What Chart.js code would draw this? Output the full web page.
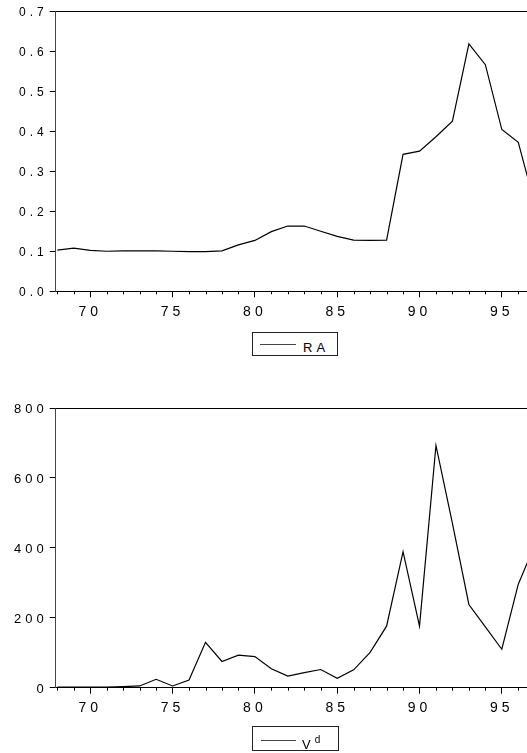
<!DOCTYPE html>
<html><head><meta charset="utf-8">
<script src="https://cdn.jsdelivr.net/npm/chart.js@4.4.0/dist/chart.umd.min.js"></script>
<style>
html,body{margin:0;padding:0;background:#fff;width:527px;height:753px;overflow:hidden;font-family:"Liberation Sans",Arial,sans-serif;}
#c1{position:absolute;left:0;top:0;}
#c2{position:absolute;left:0;top:370px;}
.leg{position:absolute;border:1px solid #222;box-sizing:border-box;background:#fff;}
.leg .ln{position:absolute;height:1px;background:#444;}
.leg .tx{position:absolute;font-size:13px;letter-spacing:4px;color:#000;line-height:1;white-space:nowrap;}
.leg .tx sup{font-size:10px;position:relative;top:-1px;letter-spacing:0;}
</style></head><body>
<canvas id="c1" width="527" height="320"></canvas>
<canvas id="c2" width="527" height="360"></canvas>
<div class="leg" style="left:252px;top:332px;width:86px;height:24px;"><div class="ln" style="left:7px;top:11px;width:36px"></div><div class="tx" style="left:50px;top:8px">RA</div></div>
<div class="leg" style="left:252px;top:726px;width:87px;height:25px;"><div class="ln" style="left:8px;top:13px;width:35px"></div><div class="tx" style="left:49px;top:9px">V<sup>d</sup></div></div>
<script>
const years = [68,69,70,71,72,73,74,75,76,77,78,79,80,81,82,83,84,85,86,87,88,89,90,91,92,93,94,95,96,97];
const raValues = [0.103,0.108,0.102,0.100,0.101,0.101,0.101,0.100,0.099,0.099,0.101,0.116,0.127,0.149,0.163,0.163,0.150,0.137,0.128,0.127,0.128,0.342,0.350,0.386,0.425,0.618,0.566,0.404,0.372,0.218];
const vdValues = [2,2,2,2,3,5,24,5,22,130,75,93,89,54,33,43,52,27,51,101,176,389,176,693,470,238,174,110,296,408];
const xTickLabels = [70,75,80,85,90,95];
const raTickLabels = ['0.0','0.1','0.2','0.3','0.4','0.5','0.6','0.7'];
const vdTickLabels = ['0','200','400','600','800'];

const FAMILY = '"Liberation Sans", Arial, sans-serif';

const spacingPlugin = {
  id:'spacing',
  beforeUpdate(chart){ chart.ctx.letterSpacing='4px'; },
  beforeLayout(chart){ chart.ctx.letterSpacing='4px'; },
  beforeDraw(chart){ chart.ctx.letterSpacing='4px'; }
};
const framePlugin = {
  id:'frame',
  afterDraw(chart){
    const ctx = chart.ctx, a = chart.chartArea, x = chart.scales.x;
    ctx.save();
    ctx.strokeStyle = '#000'; ctx.lineWidth = 1;
    ctx.beginPath();
    ctx.moveTo(a.left, Math.round(a.top)+0.5); ctx.lineTo(a.right, Math.round(a.top)+0.5);
    for (let v = Math.ceil(x.min); v <= x.max; v++) {
      if (v % 5 === 0) continue;
      const px = Math.round(x.getPixelForValue(v)) + 0.5;
      ctx.moveTo(px, a.bottom); ctx.lineTo(px, a.bottom + 3);
    }
    ctx.stroke();
    ctx.restore();
  }
};

function makeChart(id, label, values, yMax, yStep, yLabels, yFontSize, padTop, xHeight){
  return new Chart(document.getElementById(id), {
    type:'line',
    data:{datasets:[{label, data: years.map((yr,i)=>({x:yr, y:values[i]})), borderColor:'#000', borderWidth:1.2, pointRadius:0, tension:0, fill:false}]},
    options:{
      responsive:false, animation:false, devicePixelRatio:1,
      layout:{padding:{top:padTop, right:0, left:0, bottom:0}},
      plugins:{legend:{display:false}, tooltip:{enabled:false}},
      scales:{
        x:{type:'linear', min:67.9, max:96.53,
           ticks:{stepSize:1, autoSkip:false, includeBounds:false, maxRotation:0, color:'#000', padding:6,
                  font:{family:FAMILY, size:14},
                  callback:v => xTickLabels.includes(v) ? String(v) : ''},
           grid:{drawOnChartArea:false, tickLength:6, tickWidth:1,
                 tickColor:c => (c.tick && c.tick.value % 5 === 0) ? '#000' : 'rgba(0,0,0,0)'},
           border:{color:'#000', width:1},
           afterFit(s){ s.height = xHeight; }},
        y:{min:0, max:yMax,
           ticks:{stepSize:yStep, color:'#000', padding:2, labelOffset:1.5, font:{family:FAMILY, size:yFontSize},
                  callback:(v,i) => yLabels[Math.round(v/yStep)]},
           grid:{drawOnChartArea:false, tickLength:6, tickColor:'#000'},
           border:{color:'#444', width:1},
           afterFit(s){ s.width = 55.7; }}
      }
    },
    plugins:[spacingPlugin, framePlugin]
  });
}

makeChart('c1', 'RA', raValues, 0.7, 0.1, raTickLabels, 12, 11, 28.7);
makeChart('c2', 'Vd', vdValues, 800, 200, vdTickLabels, 13, 38, 42.3);
</script>
</body></html>
